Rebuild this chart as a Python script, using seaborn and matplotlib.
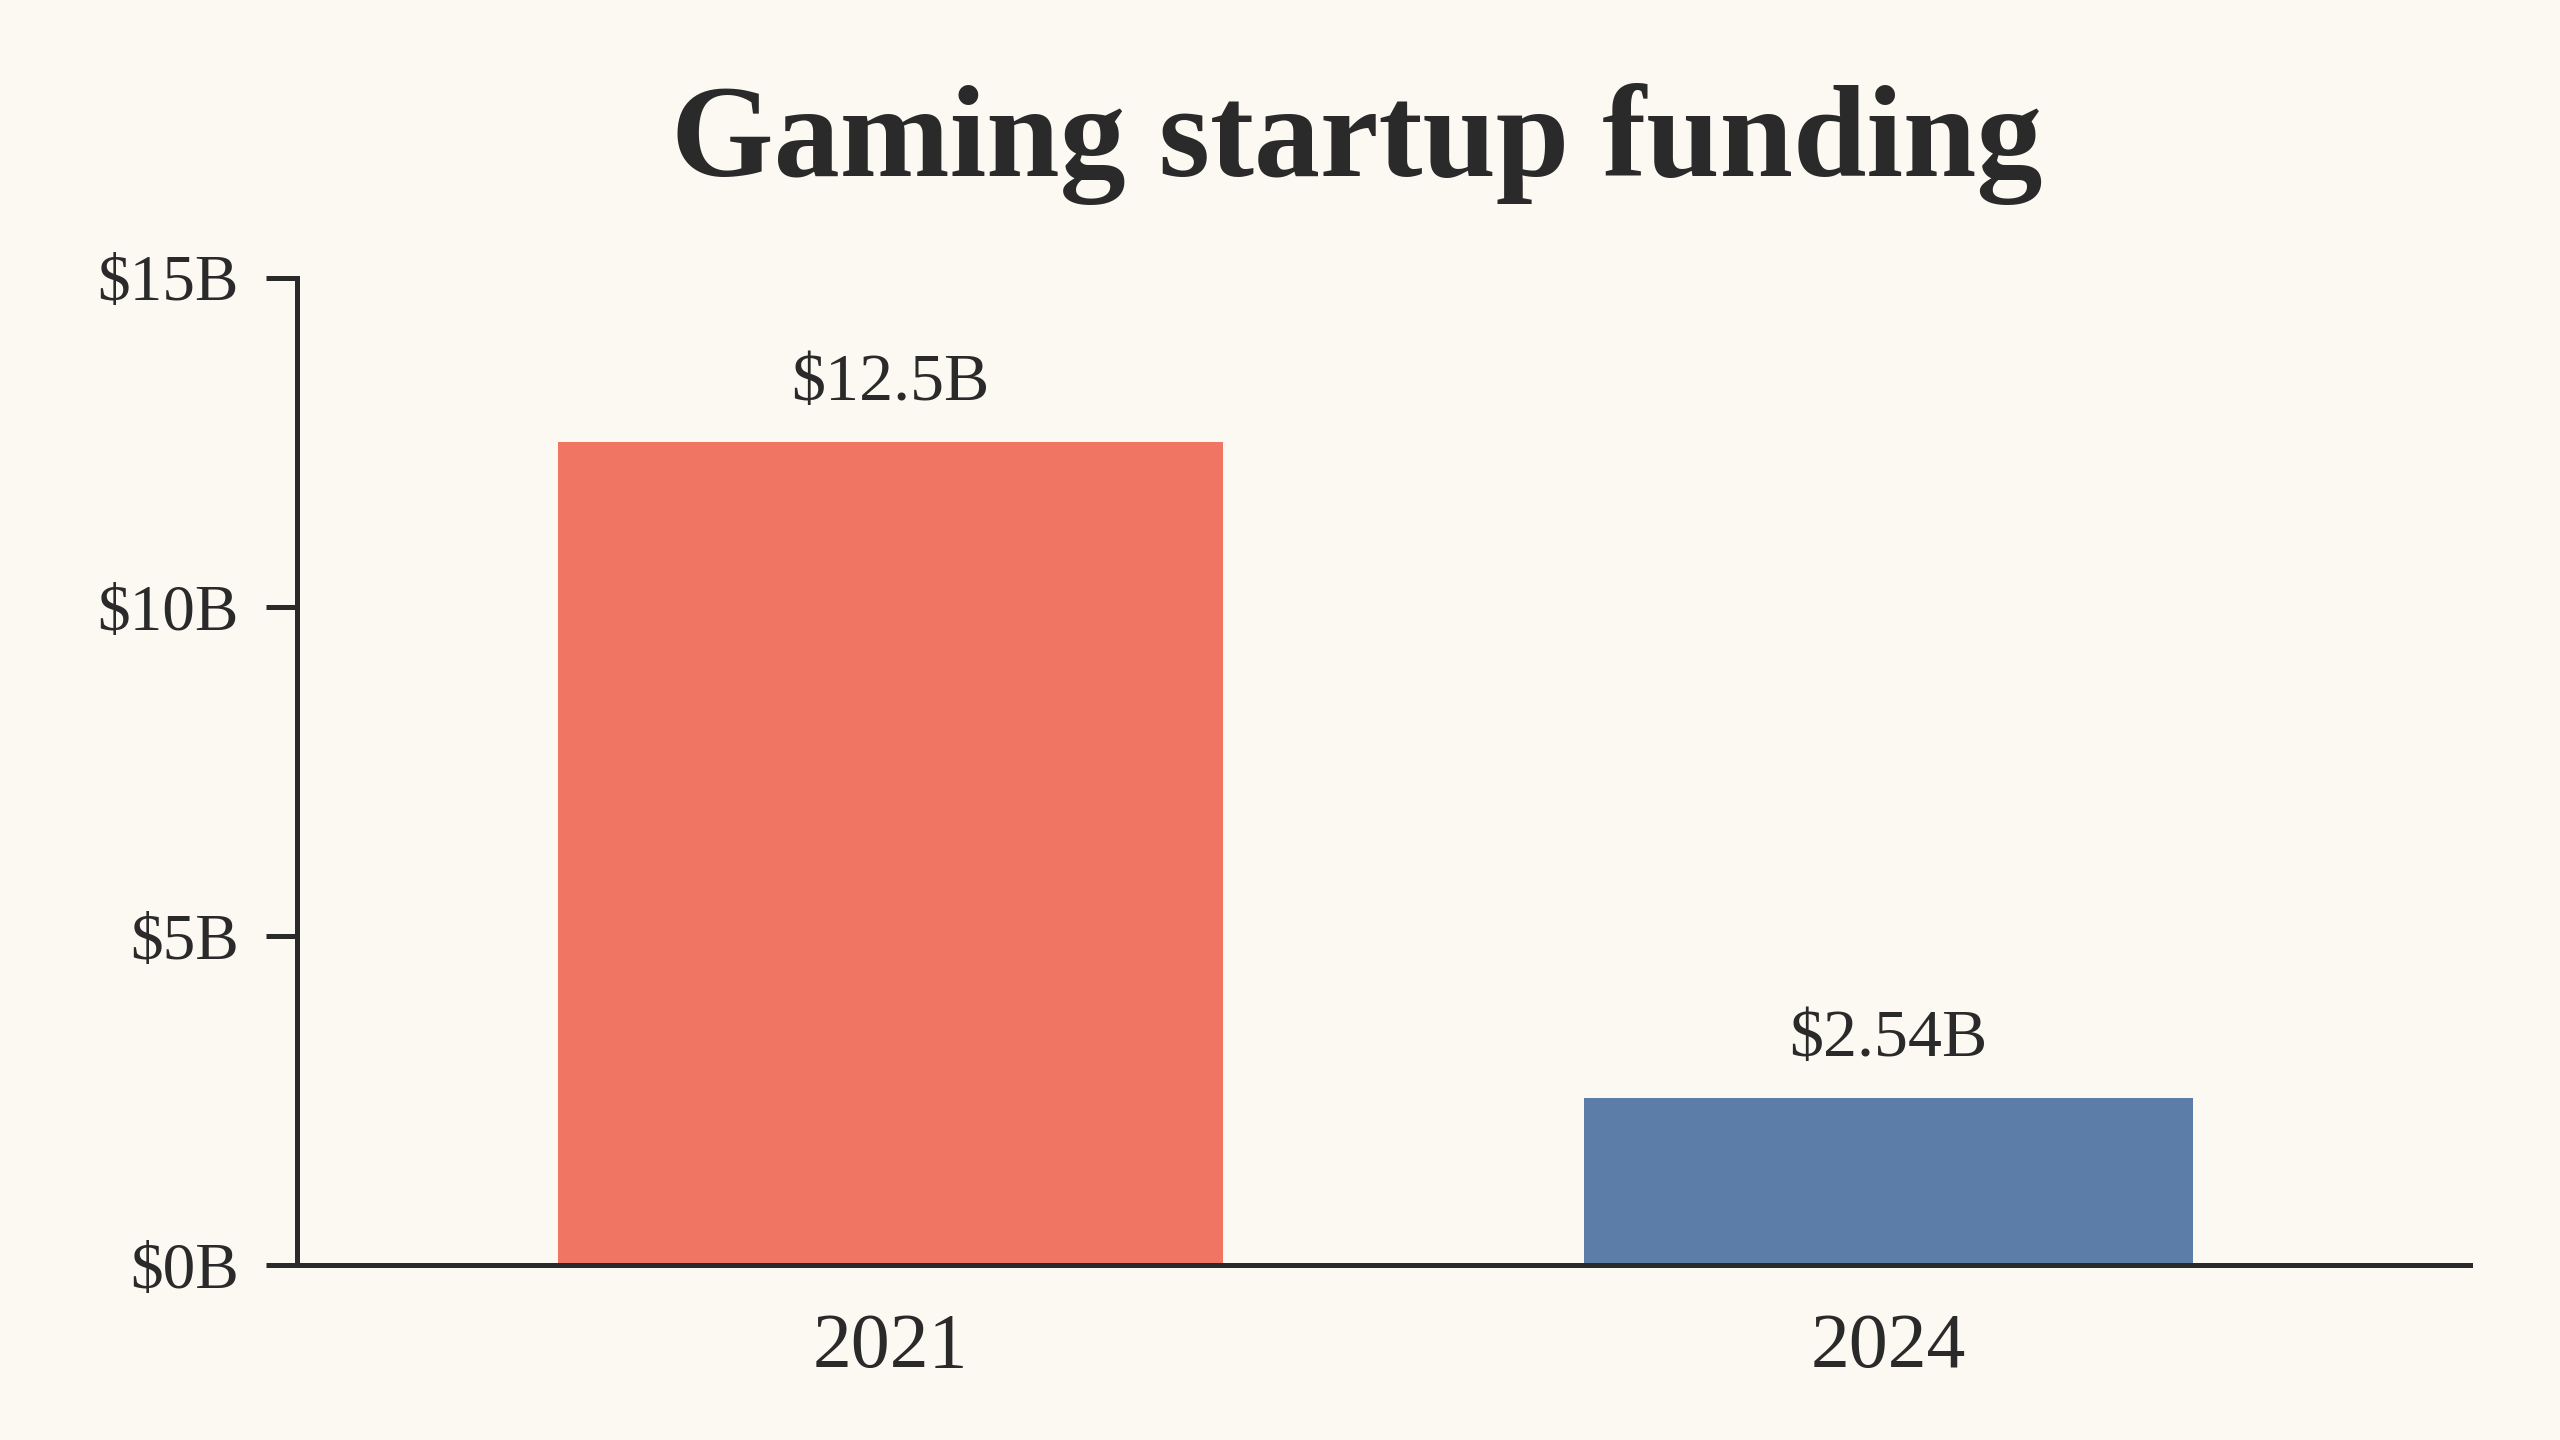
import matplotlib
matplotlib.use("Agg")
import matplotlib.pyplot as plt
import seaborn as sns

years = ["2021", "2024"]
funding = [12.5, 2.54]
value_labels = ["$12.5B", "$2.54B"]
bar_colors = ["#F07563", "#5B7DA8"]
y_ticks = [0, 5, 10, 15]
y_tick_labels = ["$0B", "$5B", "$10B", "$15B"]

BG = "#FCF9F3"
INK = "#2A2A2A"
BAR_WIDTHS = [0.666, 0.61]


def main():
    sns.set_theme(style="white")
    plt.rcParams["font.family"] = ["Liberation Serif", "DejaVu Serif"]

    fig = plt.figure(figsize=(25.6, 14.4), dpi=100, facecolor=BG)
    ax = fig.add_axes([0.116, 0.1212, 0.849, 0.686])
    ax.set_facecolor(BG)

    sns.barplot(x=years, y=funding, hue=years, palette=bar_colors,
                legend=False, ax=ax, saturation=1)

    # bars are not the same width in the original
    for cont, w in zip(ax.containers, BAR_WIDTHS):
        for bar in cont:
            cx = bar.get_x() + bar.get_width() / 2
            bar.set_width(w)
            bar.set_x(cx - w / 2)
            bar.set_linewidth(0)

    for cont, lab in zip(ax.containers, value_labels):
        ax.bar_label(cont, labels=[lab], padding=20, fontsize=49, color=INK)

    ax.set_xlim(-0.595, 1.583)
    ax.set_ylim(0, 15)
    ax.set_yticks(y_ticks)
    ax.set_yticklabels(y_tick_labels)

    for side in ["top", "right"]:
        ax.spines[side].set_visible(False)
    for side in ["left", "bottom"]:
        ax.spines[side].set_color(INK)
        ax.spines[side].set_linewidth(3.6)

    ax.tick_params(axis="y", length=22, width=3.6, color=INK, pad=20,
                   labelsize=47, labelcolor=INK, left=True)
    ax.tick_params(axis="x", length=0, pad=34, labelsize=56, labelcolor=INK)
    ax.set_xlabel("")
    ax.set_ylabel("")

    fig.text(0.53, 0.9, "Gaming startup funding", ha="center", va="center",
             fontsize=95, fontweight="bold", color=INK)

    fig.savefig("out.png", dpi=100, facecolor=BG)


if __name__ == "__main__":
    main()
